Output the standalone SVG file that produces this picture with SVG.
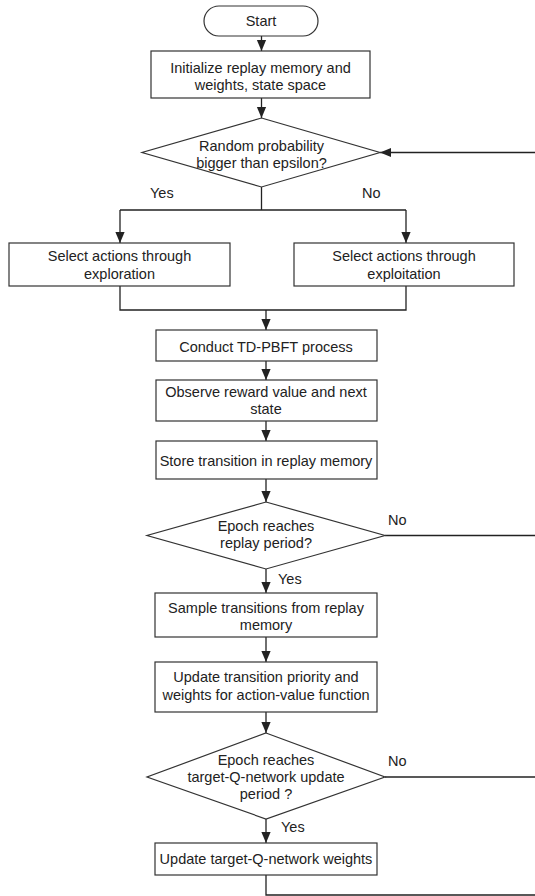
<svg xmlns="http://www.w3.org/2000/svg" width="535" height="896" viewBox="0 0 535 896">
<style>
.n{fill:#fff;stroke:#333;stroke-width:1.2}
.c{fill:none;stroke:#222;stroke-width:1.3}
text{font-family:"Liberation Sans",Arial,sans-serif;font-size:14.5px;fill:#222}
.m{text-anchor:middle}
</style>
<defs>
<marker id="ah" markerUnits="userSpaceOnUse" markerWidth="11" markerHeight="11" viewBox="0 0 10 10" refX="10" refY="5" orient="auto">
<path d="M0,0.8 L10,5 L0,9.2 Z" fill="#222"/>
</marker>
</defs>
<rect width="535" height="896" fill="#fff"/>
<g id="connectors">
<path class="c" d="M261.5,36 V51" marker-end="url(#ah)"/>
<path class="c" d="M261.5,98 V118" marker-end="url(#ah)"/>
<path class="c" d="M535,152.5 H380" marker-end="url(#ah)"/>
<path class="c" d="M261.5,187 V210 M120,210 H406"/>
<path class="c" d="M120,210 V243" marker-end="url(#ah)"/>
<path class="c" d="M406,210 V243" marker-end="url(#ah)"/>
<path class="c" d="M120,286 V310 H406 V286"/>
<path class="c" d="M266,310 V330" marker-end="url(#ah)"/>
<path class="c" d="M266,361 V380" marker-end="url(#ah)"/>
<path class="c" d="M266,421 V441" marker-end="url(#ah)"/>
<path class="c" d="M266,479 V502" marker-end="url(#ah)"/>
<path class="c" d="M385,535.5 H535"/>
<path class="c" d="M266,569 V593" marker-end="url(#ah)"/>
<path class="c" d="M266,637 V662" marker-end="url(#ah)"/>
<path class="c" d="M266,712 V733" marker-end="url(#ah)"/>
<path class="c" d="M385,777 H535"/>
<path class="c" d="M266,819 V843" marker-end="url(#ah)"/>
<path class="c" d="M266,875 V895 H535"/>
<text x="150" y="198">Yes</text>
<text x="362" y="198">No</text>
<text x="388" y="525">No</text>
<text x="278" y="584">Yes</text>
<text x="388" y="766">No</text>
<text x="281" y="832">Yes</text>
</g>
<g id="start">
<rect class="n" x="204" y="6" width="114" height="30" rx="15"/>
<text class="m" x="261" y="26">Start</text>
</g>
<g id="init">
<rect class="n" x="151" y="51" width="219" height="47"/>
<text class="m" x="260.5" y="73">Initialize replay memory and</text>
<text class="m" x="260.5" y="90">weights, state space</text>
</g>
<g id="decision-epsilon">
<path class="n" d="M261.5,118 L380,152.5 L261.5,187 L142,152.5 Z"/>
<text class="m" x="261.5" y="151">Random probability</text>
<text class="m" x="261.5" y="168">bigger than epsilon?</text>
</g>
<g id="explore">
<rect class="n" x="9" y="243" width="221" height="43"/>
<text class="m" x="119.5" y="261">Select actions through</text>
<text class="m" x="119.5" y="279">exploration</text>
</g>
<g id="exploit">
<rect class="n" x="294" y="243" width="220" height="43"/>
<text class="m" x="404" y="261">Select actions through</text>
<text class="m" x="404" y="279">exploitation</text>
</g>
<g id="conduct">
<rect class="n" x="156" y="330" width="221" height="31"/>
<text class="m" x="266" y="352">Conduct TD-PBFT process</text>
</g>
<g id="observe">
<rect class="n" x="156" y="380" width="221" height="41"/>
<text class="m" x="266" y="397">Observe reward value and next</text>
<text class="m" x="266" y="414">state</text>
</g>
<g id="store">
<rect class="n" x="156" y="441" width="221" height="38"/>
<text class="m" x="266" y="466">Store transition in replay memory</text>
</g>
<g id="decision-replay">
<path class="n" d="M266,502 L385,535.5 L266,569 L147,535.5 Z"/>
<text class="m" x="266" y="531">Epoch reaches</text>
<text class="m" x="266" y="548">replay period?</text>
</g>
<g id="sample">
<rect class="n" x="155" y="593" width="222" height="44"/>
<text class="m" x="266" y="613">Sample transitions from replay</text>
<text class="m" x="266" y="630">memory</text>
</g>
<g id="update">
<rect class="n" x="155" y="662" width="222" height="50"/>
<text class="m" x="266" y="682">Update transition priority and</text>
<text class="m" x="266" y="700">weights for action-value function</text>
</g>
<g id="decision-target">
<path class="n" d="M266,733 L385,777 L266,819 L147,777 Z"/>
<text class="m" x="266" y="765">Epoch reaches</text>
<text class="m" x="266" y="782">target-Q-network update</text>
<text class="m" x="266" y="799">period ?</text>
</g>
<g id="update-target">
<rect class="n" x="155" y="843" width="222" height="32"/>
<text class="m" x="266" y="864">Update target-Q-network weights</text>
</g>
</svg>
